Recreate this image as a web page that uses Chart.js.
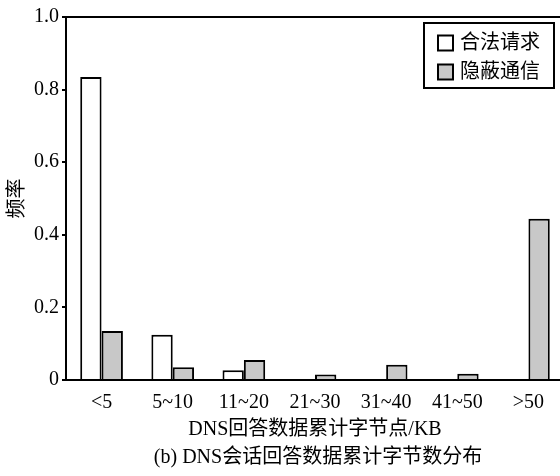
<!DOCTYPE html>
<html>
<head>
<meta charset="utf-8">
<script src="https://cdn.jsdelivr.net/npm/chart.js@4"></script>
<style>
  html, body { margin: 0; padding: 0; background: #fff; overflow: hidden; }
  #wrap { width: 580px; height: 476px; }
</style>
</head>
<body>
<div id="wrap"><canvas id="chart" width="580" height="476"></canvas></div>
<script>
// 数据
const categories = ['<5', '5~10', '11~20', '21~30', '31~40', '41~50', '>50'];
const legitValues = [0.835, 0.125, 0.027, 0, 0, 0, 0];
const covertValues = [0.135, 0.035, 0.055, 0.015, 0.042, 0.017, 0.444];
const yTicks = [0, 0.2, 0.4, 0.6, 0.8, 1.0];
const seriesNames = ['合法请求', '隐蔽通信'];

const FONT = '"Liberation Serif", "Noto Sans CJK SC", serif';

// 图框上边线 + 带边框的图例 + 图题
const framePlugin = {
  id: 'frame',
  afterDatasetsDraw(chart) {
    const { ctx, chartArea } = chart;
    ctx.save();
    ctx.strokeStyle = '#000';
    ctx.lineWidth = 2;
    ctx.beginPath();
    ctx.moveTo(chartArea.left, chartArea.top);
    ctx.lineTo(chartArea.right, chartArea.top);
    ctx.stroke();

    // legend
    const bx = 424, by = 23, bw = 130, bh = 65;
    ctx.fillStyle = '#fff';
    ctx.fillRect(bx, by, bw, bh);
    ctx.strokeRect(bx, by, bw, bh);
    ctx.font = '20px ' + FONT;
    ctx.textBaseline = 'middle';
    chart.data.datasets.forEach((ds, i) => {
      const cy = 43 + i * 29;
      ctx.fillStyle = ds.backgroundColor;
      ctx.fillRect(438, cy - 7.5, 15, 15);
      ctx.strokeRect(438, cy - 7.5, 15, 15);
      ctx.fillStyle = '#000';
      ctx.fillText(ds.label, 460, cy + 1);
    });

    // caption
    ctx.textAlign = 'center';
    ctx.fillText('(b) DNS会话回答数据累计字节数分布', 318, 458);
    ctx.restore();
  }
};

new Chart(document.getElementById('chart'), {
  type: 'bar',
  data: {
    labels: categories,
    datasets: [
      {
        label: seriesNames[0],
        data: legitValues,
        backgroundColor: '#ffffff',
        borderColor: '#000',
        borderWidth: 2
      },
      {
        label: seriesNames[1],
        data: covertValues,
        backgroundColor: '#c8c8c8',
        borderColor: '#000',
        borderWidth: 2
      }
    ]
  },
  options: {
    responsive: false,
    animation: false,
    layout: { padding: { left: 0, top: 17, right: 16, bottom: 0 } },
    datasets: {
      bar: { categoryPercentage: 0.6, barPercentage: 1.0 }
    },
    plugins: {
      legend: { display: false },
      tooltip: { enabled: false }
    },
    scales: {
      x: {
        grid: { display: false, drawTicks: false },
        border: { display: true, color: '#000', width: 2 },
        ticks: { color: '#000', font: { family: FONT, size: 20 }, padding: 11, maxRotation: 0 },
        title: {
          display: true,
          text: 'DNS回答数据累计字节点/KB',
          color: '#000',
          font: { family: FONT, size: 20 },
          padding: { top: 2, bottom: 34 }
        },
        afterFit(scale) { scale.height = 96; }
      },
      y: {
        min: 0,
        max: 1.0,
        afterBuildTicks(scale) { scale.ticks = yTicks.map(v => ({ value: v })); },
        grid: { drawOnChartArea: false, drawTicks: true, tickLength: 4, color: '#000', lineWidth: 2 },
        border: { display: true, color: '#000', width: 2 },
        ticks: {
          color: '#000',
          font: { family: FONT, size: 20 },
          padding: 3,
          callback: v => (v === 0 ? '0' : v.toFixed(1))
        },
        title: {
          display: true,
          text: '频率',
          color: '#000',
          font: { family: FONT, size: 20 },
          padding: { top: 6, bottom: 0 }
        },
        afterFit(scale) { scale.width = 66; }
      }
    }
  },
  plugins: [framePlugin]
});
</script>
</body>
</html>
